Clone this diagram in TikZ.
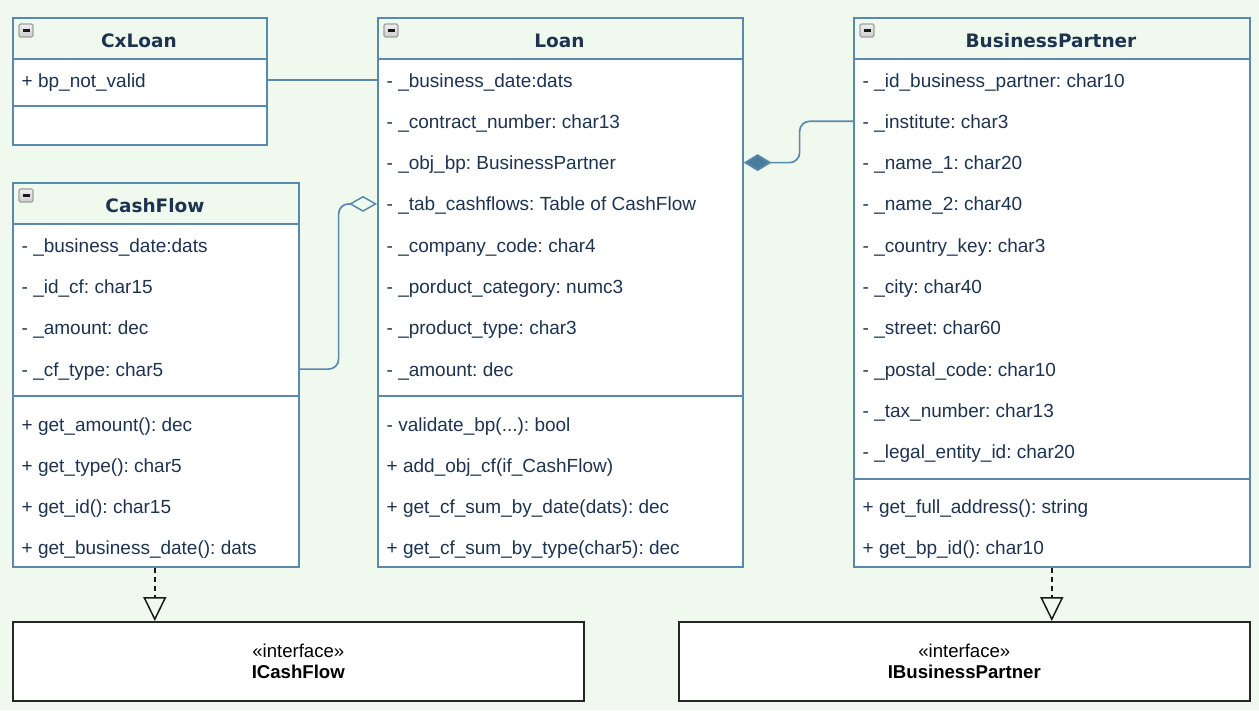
\documentclass[tikz,border=0pt]{standalone}
\usepackage{fontspec}
\setmainfont{Liberation Sans}
\newfontfamily\hdfont{DejaVu Sans}
\usetikzlibrary{arrows.meta,calc}
\frenchspacing
\definecolor{bgc}{HTML}{F0F9EE}
\definecolor{bord}{HTML}{5A89AD}
\definecolor{txt}{HTML}{1E3350}
\definecolor{dia}{HTML}{4A7A9C}
\newcommand\minusicon[2]{%
  \shade[top color=gray!12, bottom color=gray!40, rounded corners=1.5pt] (#1,#2) rectangle ++(14,13);
  \draw[draw=gray!75, rounded corners=1.5pt, line width=1.2pt] (#1,#2) rectangle ++(14,13);
  \draw[line width=2.2pt, black!90] ($(#1,#2)+(3.5,6.5)$) -- ++(7,0);}
\tikzset{
  comp/.style={draw=bord, line width=1.6pt, fill=white, anchor=north west, inner sep=0pt, rectangle},
  head/.style={comp, fill=bgc},
  title/.style={font=\hdfont\bfseries\fontsize{18.5}{20}\selectfont, text=txt, inner sep=0pt, text height=14pt, text depth=0pt},
  row/.style={anchor=west, font=\fontsize{19}{20}\selectfont, text=txt, inner xsep=9.5pt, inner ysep=0pt, text height=14pt, text depth=0pt},
  iface/.style={draw=black!85, line width=1.6pt, fill=white, anchor=north west, inner sep=0pt, align=center, font=\fontsize{18.6}{21.5}\selectfont, minimum width=571pt, minimum height=79pt},
  conn/.style={draw=bord, line width=1.7pt},
  realize/.style={draw=black!90, line width=2pt, dash pattern=on 5pt off 4pt, -{Triangle[open,length=24pt,width=23pt,line width=1.5pt]}}
}
\begin{document}
\begin{tikzpicture}[x=1pt,y=-1pt]
\fill[bgc] (0,0) rectangle (1259,710);
\useasboundingbox (0,0) rectangle (1259,710);

% ---------------- CxLoan
\node[head, minimum width=254pt, minimum height=41pt] (cxh) at (12,17) {};
\node[comp, minimum width=254pt, minimum height=47pt] (cxa) at (12,58) {};
\node[comp, minimum width=254pt, minimum height=39pt] (cxm) at (12,105) {};
\node[title] (cxt) at (139,40) {CxLoan};
\node[row] (cxa1) at (12,80) {+ bp\_not\_valid};
\minusicon{19}{24}

% ---------------- Loan
\node[head, minimum width=365pt, minimum height=41pt] (lh) at (377,17) {};
\node[comp, minimum width=365pt, minimum height=337pt] (la) at (377,58) {};
\node[comp, minimum width=365pt, minimum height=171pt] (lm) at (377,395) {};
\node[title] (lt) at (559.5,40) {Loan};
\node[row] (la1) at (377,80) {- \_business\_date:dats};
\node[row] (la2) at (377,121.3) {- \_contract\_number: char13};
\node[row] (la3) at (377,162.6) {- \_obj\_bp: BusinessPartner};
\node[row] (la4) at (377,203.9) {- \_tab\_cashflows: Table of CashFlow};
\node[row] (la5) at (377,245.2) {- \_company\_code: char4};
\node[row] (la6) at (377,286.5) {- \_porduct\_category: numc3};
\node[row] (la7) at (377,327.8) {- \_product\_type: char3};
\node[row] (la8) at (377,369.1) {- \_amount: dec};
\node[row] (lm1) at (377,424) {- validate\_bp(...): bool};
\node[row] (lm2) at (377,465.3) {+ add\_obj\_cf(if\_CashFlow)};
\node[row] (lm3) at (377,506.6) {+ get\_cf\_sum\_by\_date(dats): dec};
\node[row] (lm4) at (377,547.9) {+ get\_cf\_sum\_by\_type(char5): dec};
\minusicon{384}{24}

% ---------------- CashFlow
\node[head, minimum width=286pt, minimum height=41pt] (cfh) at (12,182) {};
\node[comp, minimum width=286pt, minimum height=172pt] (cfa) at (12,223) {};
\node[comp, minimum width=286pt, minimum height=171pt] (cfm) at (12,395) {};
\node[title] (cft) at (155,205) {CashFlow};
\node[row] (cfa1) at (12,245.2) {- \_business\_date:dats};
\node[row] (cfa2) at (12,286.5) {- \_id\_cf: char15};
\node[row] (cfa3) at (12,327.8) {- \_amount: dec};
\node[row] (cfa4) at (12,369.1) {- \_cf\_type: char5};
\node[row] (cfm1) at (12,424) {+ get\_amount(): dec};
\node[row] (cfm2) at (12,465.3) {+ get\_type(): char5};
\node[row] (cfm3) at (12,506.6) {+ get\_id(): char15};
\node[row] (cfm4) at (12,547.9) {+ get\_business\_date(): dats};
\minusicon{19}{189}

% ---------------- BusinessPartner
\node[head, minimum width=396pt, minimum height=41pt] (bph) at (853,17) {};
\node[comp, minimum width=396pt, minimum height=420pt] (bpa) at (853,58) {};
\node[comp, minimum width=396pt, minimum height=88pt] (bpm) at (853,478) {};
\node[title] (bpt) at (1051,40) {BusinessPartner};
\node[row] (bpa1) at (853,80) {- \_id\_business\_partner: char10};
\node[row] (bpa2) at (853,121.3) {- \_institute: char3};
\node[row] (bpa3) at (853,162.6) {- \_name\_1: char20};
\node[row] (bpa4) at (853,203.9) {- \_name\_2: char40};
\node[row] (bpa5) at (853,245.2) {- \_country\_key: char3};
\node[row] (bpa6) at (853,286.5) {- \_city: char40};
\node[row] (bpa7) at (853,327.8) {- \_street: char60};
\node[row] (bpa8) at (853,369.1) {- \_postal\_code: char10};
\node[row] (bpa9) at (853,410.4) {- \_tax\_number: char13};
\node[row] (bpa10) at (853,451.7) {- \_legal\_entity\_id: char20};
\node[row] (bpm1) at (853,506.6) {+ get\_full\_address(): string};
\node[row] (bpm2) at (853,547.9) {+ get\_bp\_id(): char10};
\minusicon{860}{24}

% ---------------- Interfaces
\node[iface] (icf) at (12,621) {«interface»\\\textbf{ICashFlow}};
\node[iface] (ibp) at (678,621) {«interface»\\\textbf{IBusinessPartner}};

% ---------------- Connectors
\draw[conn] (cxa.east |- cxa1) -- (la.west |- cxa1);
\draw[conn, rounded corners=10pt, -{Diamond[open,length=28pt,width=16pt,line width=1.5pt]}]
  (cfa.east |- cfa4) -- ([xshift=39pt]cfa.east |- cfa4) -- ([xshift=39pt]cfa.east |- la4) -- (la.west |- la4);
\draw[conn, rounded corners=10pt, {Diamond[length=28pt,width=17pt,fill=dia]}-]
  (la.east |- la3) -- ([xshift=56pt]la.east |- la3) -- ([xshift=56pt]la.east |- bpa2) -- (bpa.west |- bpa2);
\draw[realize] ([xshift=-1pt]cfm.south) -- ([xshift=-1pt]cfm.south |- icf.north);
\draw[realize] (bpm.south) -- (bpm.south |- ibp.north);
\end{tikzpicture}
\end{document}
